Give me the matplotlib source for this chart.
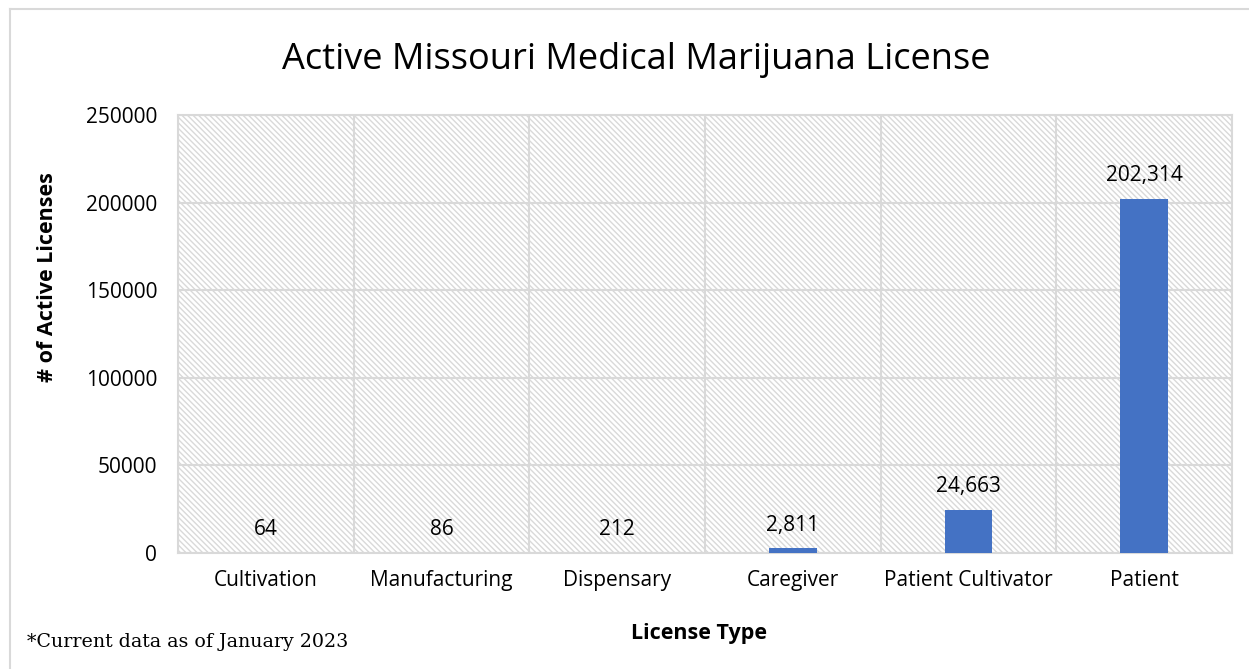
import matplotlib
matplotlib.use("Agg")
import matplotlib.pyplot as plt
from matplotlib.patches import Rectangle
from matplotlib.lines import Line2D

# License counts by type
categories = ["Cultivation", "Manufacturing", "Dispensary", "Caregiver",
              "Patient Cultivator", "Patient"]
active_licenses = [64, 86, 212, 2811, 24663, 202314]
y_ticks = [0, 50000, 100000, 150000, 200000, 250000]

BAR_COLOR = "#4472C4"
GRID_COLOR = "#d9d9d9"
SANS = ["Open Sans", "DejaVu Sans"]
SERIF = ["DejaVu Serif"]

plt.rcParams["hatch.linewidth"] = 1.0

W, H = 1249, 669
fig = plt.figure(figsize=(W / 100, H / 100), dpi=100)
fig.patch.set_facecolor("white")

# Outer frame of the chart
fig.add_artist(Line2D([10 / W, 10 / W], [0, 1 - 9 / H], transform=fig.transFigure,
                      color=GRID_COLOR, lw=1.5))
fig.add_artist(Line2D([10 / W, 1], [1 - 9 / H, 1 - 9 / H], transform=fig.transFigure,
                      color=GRID_COLOR, lw=1.5))

left, right, top, bottom = 178, 1232, 115, 553
ax = fig.add_axes([left / W, 1 - bottom / H, (right - left) / W, (bottom - top) / H])
ax.set_facecolor("white")

# Hatched plot area background
ax.add_patch(Rectangle((0, 0), 1, 1, transform=ax.transAxes, fill=False,
                       hatch="\\" * 6, edgecolor=GRID_COLOR, lw=0, zorder=0))

x = list(range(len(categories)))
ax.bar(x, active_licenses, width=0.27, color=BAR_COLOR, zorder=3)

for xi, v in zip(x, active_licenses):
    ax.annotate(f"{v:,}", (xi, v), xytext=(0, 9), textcoords="offset points",
                ha="center", va="bottom", fontsize=15, family=SANS, color="#000000",
                zorder=4)

ax.set_xlim(-0.5, len(categories) - 0.5)
ax.set_ylim(0, 250000)
ax.set_yticks(y_ticks)
ax.set_yticklabels([str(t) for t in y_ticks], family=SANS, fontsize=15)
ax.set_xticks(x)
ax.set_xticklabels(categories, family=SANS, fontsize=15)
ax.tick_params(length=0)
ax.tick_params(axis="y", pad=15)
ax.tick_params(axis="x", pad=12)

for t in y_ticks:
    ax.axhline(t, color=GRID_COLOR, lw=1.5, zorder=1)
for b in range(len(categories) + 1):
    ax.axvline(b - 0.5, color=GRID_COLOR, lw=1.5, zorder=1)
for s in ax.spines.values():
    s.set_color(GRID_COLOR)
    s.set_linewidth(1.5)

fig.text(636 / W, 1 - 60 / H, "Active Missouri Medical Marijuana License",
         ha="center", va="center", fontsize=26, family=SANS)
fig.text(48 / W, 1 - 277 / H, "# of Active Licenses", rotation=90,
         ha="center", va="center", fontsize=15.5, fontweight="bold", family=SANS)
fig.text(699 / W, 1 - 633 / H, "License Type", ha="center", va="center",
         fontsize=15.5, fontweight="bold", family=SANS)
fig.text(27 / W, 1 - 642 / H, "*Current data as of January 2023", ha="left",
         va="center", fontsize=13.7, family=SERIF)

fig.savefig("out.png", dpi=100, facecolor="white")
